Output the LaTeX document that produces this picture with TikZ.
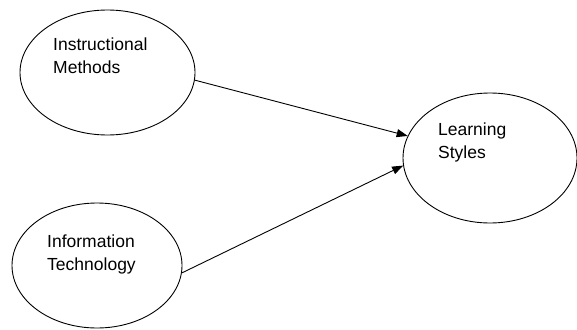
\documentclass[tikz,border=0pt]{standalone}
\usepackage{fontspec}
\setmainfont{Liberation Sans}
\usetikzlibrary{shapes.geometric,arrows.meta}

\begin{document}
\begin{tikzpicture}[x=1pt,y=-1pt,
    oval/.style={draw,ellipse,inner sep=0pt,line width=0.9pt},
    lbl/.style={anchor=north west,inner sep=0pt,align=left,font=\fontsize{17.5}{23}\selectfont},
    link/.style={-{Triangle[length=11pt,width=8pt]},line width=0.9pt}]
    \useasboundingbox (0,0) rectangle (577,329);

    % Ellipses
    \node[oval,minimum width=175pt,minimum height=125pt] (im) at (107.5,72.5) {};
    \node[oval,minimum width=170pt,minimum height=125pt] (it) at (97,265.5) {};
    \node[oval,minimum width=174pt,minimum height=130pt] (ls) at (490,158) {};

    % Labels
    \node[lbl] (im-text) at (53,38) {Instructional\\Methods};
    \node[lbl] (it-text) at (47,235) {Information\\Technology};
    \node[lbl] (ls-text) at (438,123) {Learning\\Styles};

    % Arrows
    \draw[link] (im.-5) -- (ls.165);
    \draw[link] (it.-5) -- (ls.185);
\end{tikzpicture}
\end{document}
